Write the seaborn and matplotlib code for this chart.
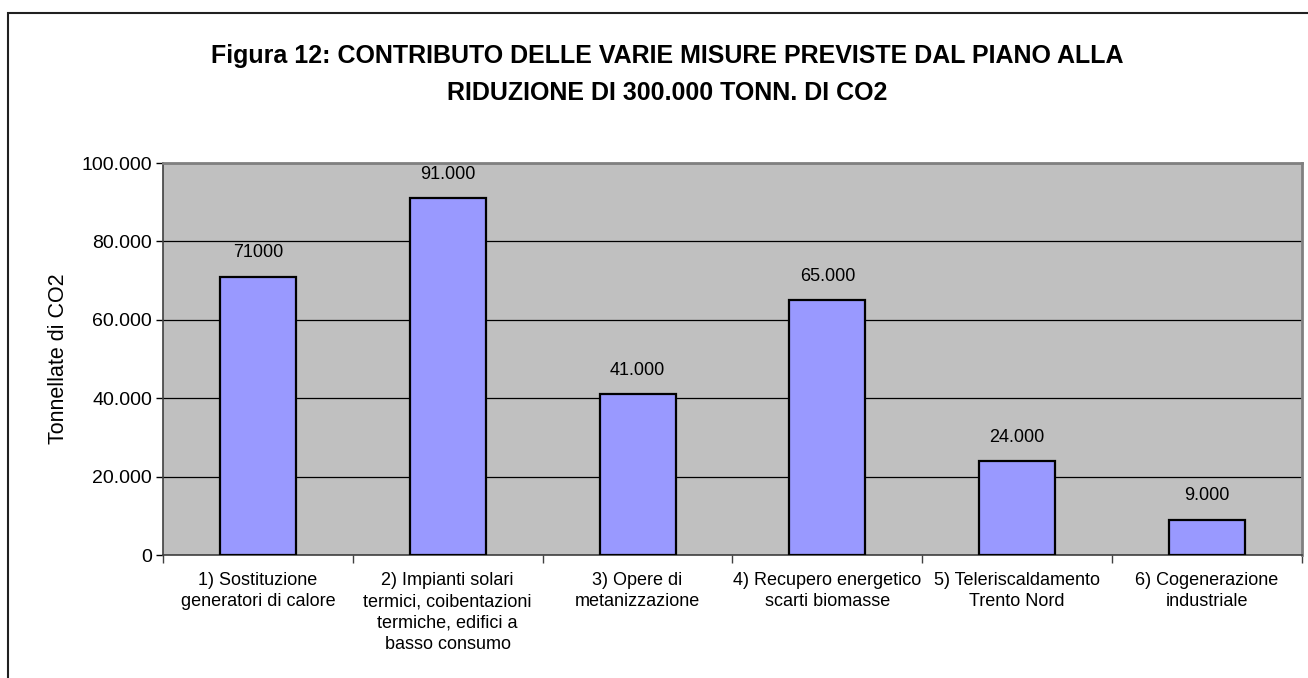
import matplotlib
matplotlib.use("Agg")
import matplotlib.pyplot as plt
import matplotlib.patches as mpatches
from matplotlib.ticker import FuncFormatter, FixedLocator
import seaborn as sns
import pandas as pd

# Measures of the plan and the CO2 reduction each one contributes (tonnes)
categories = [
    "1) Sostituzione\ngeneratori di calore",
    "2) Impianti solari\ntermici, coibentazioni\ntermiche, edifici a\nbasso consumo",
    "3) Opere di\nmetanizzazione",
    "4) Recupero energetico\nscarti biomasse",
    "5) Teleriscaldamento\nTrento Nord",
    "6) Cogenerazione\nindustriale",
]
values = [71000, 91000, 41000, 65000, 24000, 9000]
value_labels = ["71000", "91.000", "41.000", "65.000", "24.000", "9.000"]
y_ticks = [0, 20000, 40000, 60000, 80000, 100000]

title_lines = [
    "Figura 12: CONTRIBUTO DELLE VARIE MISURE PREVISTE DAL PIANO ALLA",
    "RIDUZIONE DI 300.000 TONN. DI CO2",
]
y_label = "Tonnellate di CO2"

sns.set_theme(style="white")
plt.rcParams["font.family"] = ["Liberation Sans", "DejaVu Sans"]

df = pd.DataFrame({"misura": categories, "co2": values})

fig = plt.figure(figsize=(13.08, 6.78), dpi=100)
fig.patch.set_facecolor("white")
ax = fig.add_axes([163 / 1308, 1 - 555 / 678, (1302 - 163) / 1308, (555 - 163) / 678])
ax.set_facecolor("#C0C0C0")

sns.barplot(data=df, x="misura", y="co2", color="#9999FF", saturation=1,
            edgecolor="black", linewidth=1.6, width=0.4, ax=ax, zorder=3)

# value labels above each bar
ax.bar_label(ax.containers[0], labels=value_labels, padding=11, fontsize=13,
             color="black")

ax.set_xlim(-0.5, len(categories) - 0.5)
ax.set_ylim(0, 100000)
ax.yaxis.set_major_locator(FixedLocator(y_ticks))
ax.yaxis.set_major_formatter(FuncFormatter(lambda v, p: f"{int(v):,}".replace(",", ".")))
ax.grid(axis="y", color="black", linewidth=0.9, zorder=1)
ax.grid(axis="x", visible=False)
ax.set_axisbelow(True)

ax.set_xlabel("")
ax.set_ylabel(y_label, fontsize=15.5, labelpad=9, color="black")

ax.tick_params(axis="y", which="major", left=True, length=5, width=1,
               labelsize=14, pad=3, colors="black", direction="out")
ax.set_xticks(range(len(categories)))
ax.set_xticklabels(categories, fontsize=13, linespacing=1.35)
ax.tick_params(axis="x", which="major", bottom=True, length=0, pad=12,
               colors="black")
ax.set_xticks([i - 0.5 for i in range(len(categories) + 1)], minor=True)
ax.tick_params(axis="x", which="minor", bottom=True, length=6, width=1,
               color="#404040", direction="out")

for side in ("left", "bottom"):
    ax.spines[side].set_color("#404040")
    ax.spines[side].set_linewidth(1.2)
for side in ("top", "right"):
    ax.spines[side].set_color("#808080")
    ax.spines[side].set_linewidth(2)

# title
fig.text(667 / 1308, 1 - 56 / 678, title_lines[0], ha="center", va="center",
         fontsize=18, fontweight="bold", color="black")
fig.text(667 / 1308, 1 - 93 / 678, title_lines[1], ha="center", va="center",
         fontsize=18, fontweight="bold", color="black")

# chart frame
frame = mpatches.Rectangle((8 / 1308, -0.2), 1.2, 1.2 - 13 / 678,
                           transform=fig.transFigure, fill=False,
                           edgecolor="#202020", linewidth=1.5, clip_on=False)
fig.patches.append(frame)

fig.savefig("out.png", dpi=100)
